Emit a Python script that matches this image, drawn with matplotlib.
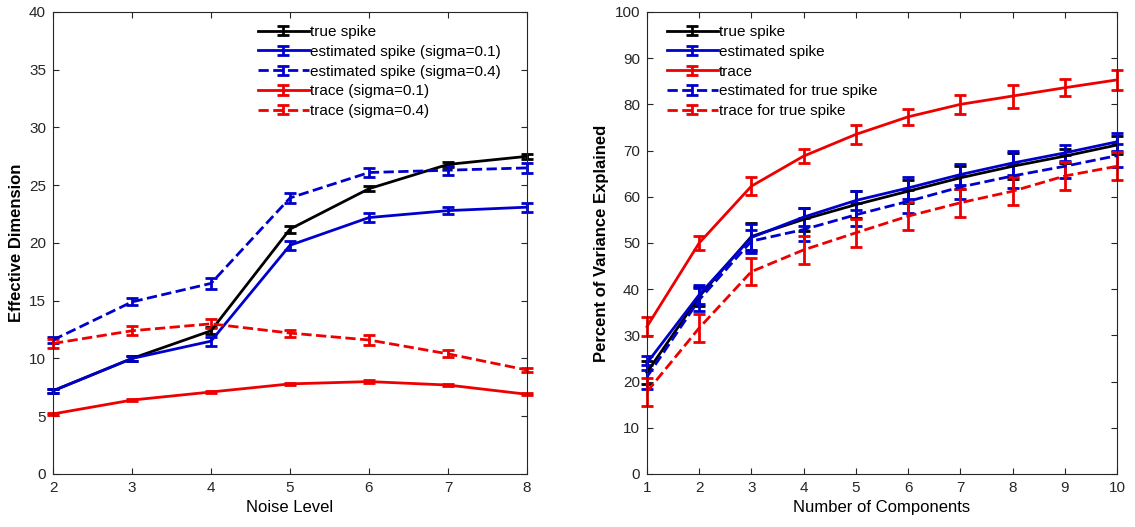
import numpy as np
import matplotlib.pyplot as plt
from matplotlib.legend_handler import HandlerErrorbar
from matplotlib.container import ErrorbarContainer

plt.rcParams['font.family'] = ['Liberation Sans', 'DejaVu Sans']

# left panel: effective dimension vs noise level
noise = [2, 3, 4, 5, 6, 7, 8]
true_spike = [7.2, 10.0, 12.4, 21.2, 24.7, 26.8, 27.5]
true_spike_err = [0.2, 0.2, 0.3, 0.3, 0.2, 0.2, 0.2]
est_01 = [7.2, 10.0, 11.5, 19.8, 22.2, 22.8, 23.1]
est_01_err = [0.2, 0.2, 0.4, 0.4, 0.4, 0.3, 0.4]
est_04 = [11.6, 14.9, 16.5, 23.9, 26.1, 26.3, 26.5]
est_04_err = [0.3, 0.3, 0.5, 0.4, 0.4, 0.4, 0.4]
trace_01 = [5.2, 6.4, 7.1, 7.8, 8.0, 7.7, 6.9]
trace_01_err = [0.1, 0.1, 0.1, 0.1, 0.1, 0.1, 0.1]
trace_04 = [11.3, 12.4, 13.0, 12.2, 11.6, 10.4, 9.0]
trace_04_err = [0.4, 0.4, 0.4, 0.3, 0.4, 0.3, 0.2]

# right panel: percent variance explained vs number of components
comps = [1, 2, 3, 4, 5, 6, 7, 8, 9, 10]
r_true = [22.0, 38.4, 51.4, 55.1, 58.3, 61.2, 64.1, 66.6, 68.8, 71.2]
r_true_err = [2.5, 2.0, 3.0, 2.5, 3.0, 2.5, 2.5, 2.8, 1.5, 2.0]
r_est = [24.0, 38.8, 51.2, 55.6, 59.2, 61.9, 64.8, 67.3, 69.5, 71.9]
r_est_err = [1.5, 2.0, 3.0, 2.0, 2.0, 2.3, 2.3, 2.5, 1.8, 2.0]
r_trace = [31.9, 50.0, 62.3, 68.8, 73.5, 77.3, 80.0, 81.8, 83.6, 85.3]
r_trace_err = [2.0, 1.5, 2.0, 1.5, 2.0, 1.8, 2.0, 2.5, 1.8, 2.2]
r_est_true = [21.0, 37.7, 50.4, 52.9, 56.1, 59.0, 62.1, 64.5, 66.6, 68.9]
r_est_true_err = [2.5, 2.5, 2.5, 2.5, 2.5, 2.5, 2.5, 2.5, 2.5, 2.5]
r_trace_true = [17.8, 31.6, 43.8, 48.5, 52.2, 55.8, 58.7, 61.2, 64.5, 66.6]
r_trace_true_err = [3.0, 3.0, 3.0, 3.0, 3.0, 3.0, 3.0, 3.0, 3.0, 3.0]

blue = '#0000cc'
red = '#ee0000'

fig = plt.figure(figsize=(11.35, 5.27), dpi=100)
ax1 = fig.add_axes([0.0467, 0.1006, 0.4176, 0.8767])
ax2 = fig.add_axes([0.570, 0.1006, 0.4141, 0.8767])


def eb(ax, x, y, e, color, ls, label):
    c = ax.errorbar(x, y, yerr=e, color=color, linestyle=ls, linewidth=2,
                    capsize=4, capthick=2, elinewidth=2, label=label)
    c[0].set_clip_on(False)
    for part in c[1] + c[2]:
        part.set_clip_on(False)
    if ls != '-':
        c[-1][0].set_linestyle('-')
    return c


eb(ax1, noise, true_spike, true_spike_err, 'black', '-', 'true spike')
eb(ax1, noise, est_01, est_01_err, blue, '-', 'estimated spike (sigma=0.1)')
eb(ax1, noise, est_04, est_04_err, blue, '--', 'estimated spike (sigma=0.4)')
eb(ax1, noise, trace_01, trace_01_err, red, '-', 'trace (sigma=0.1)')
eb(ax1, noise, trace_04, trace_04_err, red, '--', 'trace (sigma=0.4)')

eb(ax2, comps, r_true, r_true_err, 'black', '-', 'true spike')
eb(ax2, comps, r_est, r_est_err, blue, '-', 'estimated spike')
eb(ax2, comps, r_trace, r_trace_err, red, '-', 'trace')
eb(ax2, comps, r_est_true, r_est_true_err, blue, '--', 'estimated for true spike')
eb(ax2, comps, r_trace_true, r_trace_true_err, red, '--', 'trace for true spike')

ax1.set_xlim(2, 8)
ax1.set_ylim(0, 40)
ax1.set_xticks(noise)
ax1.set_yticks(np.arange(0, 41, 5))
ax1.set_xlabel('Noise Level', fontsize=12)
ax1.set_ylabel('Effective Dimension', fontsize=12, fontweight='bold')

ax2.set_xlim(1, 10)
ax2.set_ylim(0, 100)
ax2.set_xticks(comps)
ax2.set_yticks(np.arange(0, 101, 10))
ax2.set_xlabel('Number of Components', fontsize=12)
ax2.set_ylabel('Percent of Variance Explained', fontsize=12, fontweight='bold')

for ax in (ax1, ax2):
    ax.tick_params(direction='in', top=True, right=True, labelsize=11,
                   colors='#262626', length=4, pad=5)
    for s in ax.spines.values():
        s.set_color('#262626')
        s.set_linewidth(0.8)

hmap = {ErrorbarContainer: HandlerErrorbar(yerr_size=0.3)}
for ax, x0 in ((ax1, 0.42), (ax2, 0.03)):
    ax.legend(loc='upper left', bbox_to_anchor=(x0, 0.985), frameon=False,
              fontsize=11, handlelength=3.3, handletextpad=0.1,
              labelspacing=0.38, borderaxespad=0, handler_map=hmap)

fig.savefig('out.png', dpi=100)
